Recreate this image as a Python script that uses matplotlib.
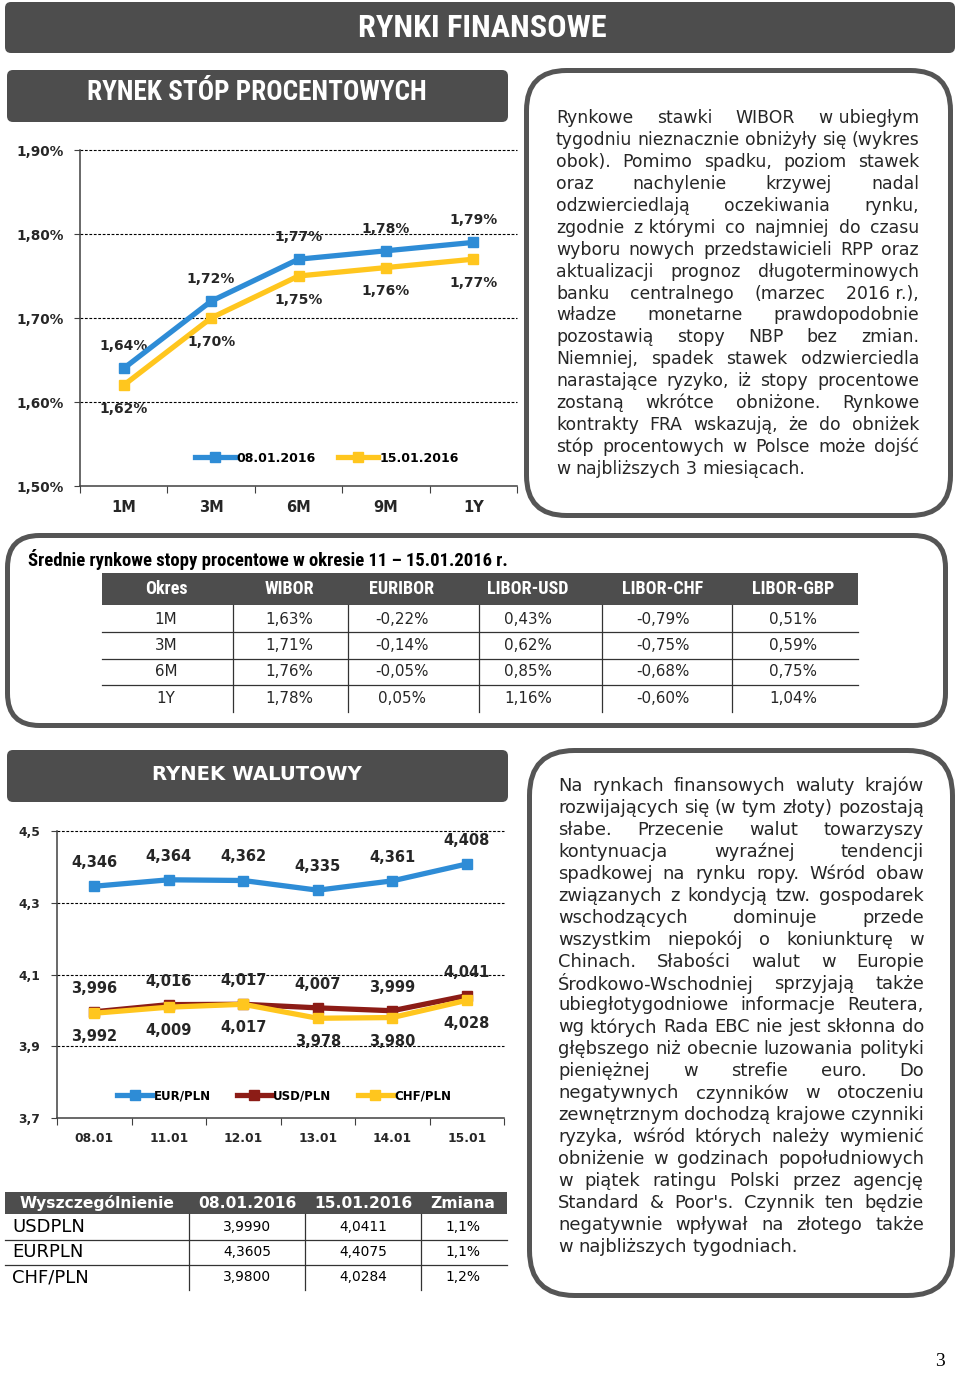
import numpy as np
import matplotlib
matplotlib.use('Agg')
import matplotlib.pyplot as plt
from matplotlib.patches import FancyBboxPatch, Rectangle
from matplotlib import font_manager as fm

W, H = 960, 1373

# --- data -----------------------------------------------------------------
tenors = ['1M', '3M', '6M', '9M', '1Y']
wibor_0801 = [1.64, 1.72, 1.77, 1.78, 1.79]
wibor_1501 = [1.62, 1.70, 1.75, 1.76, 1.77]
rate_ticks = [1.5, 1.6, 1.7, 1.8, 1.9]
rate_tick_labels = ['1,50%', '1,60%', '1,70%', '1,80%', '1,90%']

days = ['08.01', '11.01', '12.01', '13.01', '14.01', '15.01']
eurpln = [4.346, 4.364, 4.362, 4.335, 4.361, 4.408]
usdpln = [3.996, 4.016, 4.017, 4.007, 3.999, 4.041]
chfpln = [3.992, 4.009, 4.017, 3.978, 3.980, 4.028]
fx_ticks = [3.7, 3.9, 4.1, 4.3, 4.5]
fx_tick_labels = ['3,7', '3,9', '4,1', '4,3', '4,5']

rates_cols = ['Okres', 'WIBOR', 'EURIBOR', 'LIBOR-USD', 'LIBOR-CHF', 'LIBOR-GBP']
rates_rows = [['1M', '1,63%', '-0,22%', '0,43%', '-0,79%', '0,51%'],
              ['3M', '1,71%', '-0,14%', '0,62%', '-0,75%', '0,59%'],
              ['6M', '1,76%', '-0,05%', '0,85%', '-0,68%', '0,75%'],
              ['1Y', '1,78%', '0,05%', '1,16%', '-0,60%', '1,04%']]

fx_cols = ['Wyszczególnienie', '08.01.2016', '15.01.2016', 'Zmiana']
fx_rows = [['USDPLN', '3,9990', '4,0411', '1,1%'],
           ['EURPLN', '4,3605', '4,4075', '1,1%'],
           ['CHF/PLN', '3,9800', '4,0284', '1,2%']]

text_rates = ["Rynkowe stawki WIBOR w~ubiegłym",
              "tygodniu nieznacznie obniżyły się (wykres",
              "obok). Pomimo spadku, poziom stawek",
              "oraz nachylenie krzywej nadal",
              "odzwierciedlają oczekiwania rynku,",
              "zgodnie z~którymi co najmniej do czasu",
              "wyboru nowych przedstawicieli RPP oraz",
              "aktualizacji prognoz długoterminowych",
              "banku centralnego (marzec 2016~r.),",
              "władze monetarne prawdopodobnie",
              "pozostawią stopy NBP bez zmian.",
              "Niemniej, spadek stawek odzwierciedla",
              "narastające ryzyko, iż stopy procentowe",
              "zostaną wkrótce obniżone. Rynkowe",
              "kontrakty FRA wskazują, że do obniżek",
              "stóp procentowych w Polsce może dojść",
              "w najbliższych 3 miesiącach."]

text_fx = ["Na rynkach finansowych waluty krajów",
           "rozwijających się (w tym złoty) pozostają",
           "słabe. Przecenie walut towarzyszy",
           "kontynuacja wyraźnej tendencji",
           "spadkowej na rynku ropy. Wśród obaw",
           "związanych z kondycją tzw. gospodarek",
           "wschodzących dominuje przede",
           "wszystkim niepokój o koniunkturę w",
           "Chinach. Słabości walut w Europie",
           "Środkowo-Wschodniej sprzyjają także",
           "ubiegłotygodniowe informacje Reutera,",
           "wg których Rada EBC nie jest skłonna do",
           "głębszego niż obecnie luzowania polityki",
           "pieniężnej w strefie euro. Do",
           "negatywnych czynników w otoczeniu",
           "zewnętrznym dochodzą krajowe czynniki",
           "ryzyka, wśród których należy wymienić",
           "obniżenie w godzinach popołudniowych",
           "w piątek ratingu Polski przez agencję",
           "Standard & Poor's. Czynnik ten będzie",
           "negatywnie wpływał na złotego także",
           "w najbliższych tygodniach."]

# --- fonts / colours -------------------------------------------------------
names = {f.name for f in fm.fontManager.ttflist}
def pick(*cands):
    for c in cands:
        if c in names:
            return c
    return 'DejaVu Sans'

NARROW = pick('Liberation Sans Narrow', 'DejaVu Sans Condensed', 'Roboto Condensed', 'Liberation Sans')
BODY = pick('DejaVu Sans')
SERIF = pick('Liberation Serif', 'DejaVu Serif')

DARK = '#4d4d4d'
EDGE = '#555555'
TXT = '#262626'
BLUE = '#2e8cd6'
YELLOW = '#ffc61e'
BROWN = '#8c1c16'

plt.rcParams['font.family'] = [BODY]

fig = plt.figure(figsize=(W / 100, H / 100), dpi=100)
bg = fig.add_axes([0, 0, 1, 1])
bg.set_xlim(0, W)
bg.set_ylim(H, 0)
bg.axis('off')
renderer = fig.canvas.get_renderer()


def width_px(s, fs, **kw):
    t = bg.text(0, 0, s, fontsize=fs, **kw)
    w = t.get_window_extent(renderer).width
    t.remove()
    return w


def fit(s, target, **kw):
    return 10 * target / width_px(s, 10, **kw)


def dark_box(x0, y0, x1, y1, r=6):
    bg.add_patch(FancyBboxPatch((x0, y0), x1 - x0, y1 - y0,
                                boxstyle=f"round,pad=0,rounding_size={r}",
                                fc=DARK, ec='none'))


def frame(x0, y0, x1, y1, r=40):
    bg.add_patch(FancyBboxPatch((x0 + 2.5, y0 + 2.5), x1 - x0 - 5, y1 - y0 - 5,
                                boxstyle=f"round,pad=0,rounding_size={r}",
                                fc='white', ec=EDGE, lw=3.6))


def heading(s, cx, cy, target, family):
    fs = fit(s, target, family=family, weight='bold')
    bg.text(cx, cy, s, fontsize=fs, family=family, weight='bold', color='white',
            ha='center', va='center')


def justify(lines, x0, x1, y0, dy, fs=13):
    spc = width_px('a a', fs) - width_px('aa', fs)
    natural = []
    for ln in lines[:-1]:
        ws = [w.replace('~', ' ') for w in ln.split(' ')]
        natural.append(sum(width_px(w, fs) for w in ws) + spc * (len(ws) - 1))
    fs = fs * min(1.0, (x1 - x0) / max(natural))
    spc = width_px('a a', fs) - width_px('aa', fs)
    for k, ln in enumerate(lines):
        ws = [w.replace('~', ' ') for w in ln.split(' ')]
        wd = [width_px(w, fs) for w in ws]
        last = k == len(lines) - 1
        gap = spc if (last or len(ws) == 1) else (x1 - x0 - sum(wd)) / (len(ws) - 1)
        x = x0
        for w, d in zip(ws, wd):
            bg.text(x, y0 + k * dy, w, fontsize=fs, color=TXT, ha='left', va='center')
            x += d + gap


# --- page furniture -------------------------------------------------------
dark_box(5, 2, 955, 53)
heading('RYNKI FINANSOWE', 482, 28, 247, NARROW)
dark_box(7, 70, 508, 122)
heading('RYNEK STÓP PROCENTOWYCH', 257, 93, 339, NARROW)
dark_box(7, 750, 508, 802)
heading('RYNEK WALUTOWY', 257, 774, 210, BODY)

frame(524, 68, 953, 518, r=40)
justify(text_rates, 556, 919, 118, 21.94)
frame(527, 748, 955, 1298, r=45)
justify(text_fx, 558, 924, 786, 21.95)
frame(5, 533, 948, 728, r=32)

bg.text(940, 1362, '3', fontsize=14, family=SERIF, color='black', ha='center', va='center')

# --- table: interest rates ------------------------------------------------
title = 'Średnie rynkowe stopy procentowe w okresie 11 – 15.01.2016 r.'
bg.text(28, 560, title, fontsize=fit(title, 484, family=NARROW, weight='bold'),
        family=NARROW, weight='bold', color='black', ha='left', va='center')
bg.add_patch(Rectangle((102, 573), 756, 32, fc=DARK, ec='none'))
col_x = [166, 289, 402, 528, 663, 793]
seps = [233, 348, 479, 602, 732]
fs_h = fit('LIBOR-GBP', 82, family=NARROW, weight='bold')
fs_b = fit('-0,22%', 53)
for x, c in zip(col_x, rates_cols):
    bg.text(x, 589, c, fontsize=fs_h, family=NARROW, weight='bold', color='white',
            ha='center', va='center')
for r, row in enumerate(rates_rows):
    y = 619 + r * 26.5
    for x, v in zip(col_x, row):
        bg.text(x, y, v, fontsize=fs_b, color=TXT, ha='center', va='center')
for y in [632, 658.5, 685]:
    bg.plot([102, 858], [y, y], color='#333333', lw=0.9)
for x in seps:
    bg.plot([x, x], [605, 712], color='#333333', lw=0.9)

# --- table: fx ------------------------------------------------------------
bg.add_patch(Rectangle((5, 1192), 502, 22, fc=DARK, ec='none'))
fx_x = [97, 247, 363, 463]
fs_h2 = fit('Wyszczególnienie', 155, weight='bold')
for x, c in zip(fx_x, fx_cols):
    bg.text(x, 1203, c, fontsize=fs_h2, weight='bold', color='white', ha='center', va='center')
fs_l2 = fit('USDPLN', 73)
fs_v2 = fit('3,9990', 48)
for r, row in enumerate(fx_rows):
    y = 1227 + r * 25
    bg.text(12, y, row[0], fontsize=fs_l2, color='black', ha='left', va='center')
    for x, v in zip(fx_x[1:], row[1:]):
        bg.text(x, y, v, fontsize=fs_v2, color='black', ha='center', va='center')
for y in [1239.5, 1264.5]:
    bg.plot([5, 507], [y, y], color='#333333', lw=0.9)
for x in [189, 305, 421]:
    bg.plot([x, x], [1214, 1290], color='#333333', lw=0.9)


# --- charts ---------------------------------------------------------------
def px_axes(x0, y0, x1, y1):
    ax = fig.add_axes([x0 / W, 1 - y1 / H, (x1 - x0) / W, (y1 - y0) / H])
    ax.patch.set_visible(False)
    for s in ['top', 'right']:
        ax.spines[s].set_visible(False)
    for s in ['left', 'bottom']:
        ax.spines[s].set_color('#404040')
        ax.spines[s].set_linewidth(1.1)
    return ax


def style_axis(ax, n, cats, ticks, tick_labels, fs, xfs):
    ax.set_xlim(-0.5, n - 0.5)
    ax.set_ylim(ticks[0], ticks[-1])
    for v in ticks[1:]:
        ax.axhline(v, color='black', lw=0.8, ls=(0, (2.5, 1.5)), clip_on=False, zorder=1)
    ax.set_xticks(np.arange(-0.5, n, 1))
    ax.set_xticklabels([])
    ax.set_xticks(np.arange(n), minor=True)
    ax.set_xticklabels(cats, minor=True, fontsize=xfs, weight='bold', color=TXT)
    ax.tick_params(axis='x', which='major', length=5, color='#404040')
    ax.tick_params(axis='x', which='minor', length=0, pad=10)
    ax.set_yticks(ticks)
    ax.set_yticklabels(tick_labels, fontsize=fs, weight='bold', color=TXT)
    ax.tick_params(axis='y', length=4, color='#404040', pad=8)


def labels(ax, xs, vals, fmt, dy, fs):
    for x, v in zip(xs, vals):
        ax.annotate(fmt(v), (x, v), xytext=(0, dy), textcoords='offset points',
                    ha='center', va='center', fontsize=fs, weight='bold', color=TXT,
                    annotation_clip=False)


# chart 1: WIBOR curve
ax1 = px_axes(80, 150, 517, 486)
style_axis(ax1, len(tenors), tenors, rate_ticks, rate_tick_labels, 9.8, 10.5)
x1 = np.arange(len(tenors))
l1, = ax1.plot(x1, wibor_0801, color=BLUE, lw=3.8, marker='s', ms=6.5, zorder=4)
l2, = ax1.plot(x1, wibor_1501, color=YELLOW, lw=3.8, marker='s', ms=6.5, zorder=3)
pct = lambda v: f'{v:.2f}%'.replace('.', ',')
labels(ax1, x1, wibor_0801, pct, 16, 10)
labels(ax1, x1, wibor_1501, pct, -17, 10)
ax1.legend([l1, l2], ['08.01.2016', '15.01.2016'], loc='center', bbox_to_anchor=(0.565, 0.083),
           ncol=2, frameon=False, handlelength=3.2, handletextpad=0.1, columnspacing=1.8,
           prop=dict(weight='bold', size=9))

# chart 2: FX
ax2 = px_axes(57, 831, 504, 1118)
style_axis(ax2, len(days), days, fx_ticks, fx_tick_labels, 8.8, 8.8)
x2 = np.arange(len(days))
e1, = ax2.plot(x2, eurpln, color=BLUE, lw=3.8, marker='s', ms=6.5, zorder=4)
e2, = ax2.plot(x2, usdpln, color=BROWN, lw=3.8, marker='s', ms=6.5, zorder=3)
e3, = ax2.plot(x2, chfpln, color=YELLOW, lw=3.8, marker='s', ms=6.5, zorder=4)
num = lambda v: f'{v:.3f}'.replace('.', ',')
labels(ax2, x2, eurpln, num, 17, 10.5)
labels(ax2, x2, usdpln, num, 17, 10.5)
labels(ax2, x2, chfpln, num, -17, 10.5)
ax2.legend([e1, e2, e3], ['EUR/PLN', 'USD/PLN', 'CHF/PLN'], loc='center',
           bbox_to_anchor=(0.508, 0.077), ncol=3, frameon=False, handlelength=3.0,
           handletextpad=0.1, columnspacing=2.2, prop=dict(weight='bold', size=8.5))

fig.savefig('out.png', dpi=100)
